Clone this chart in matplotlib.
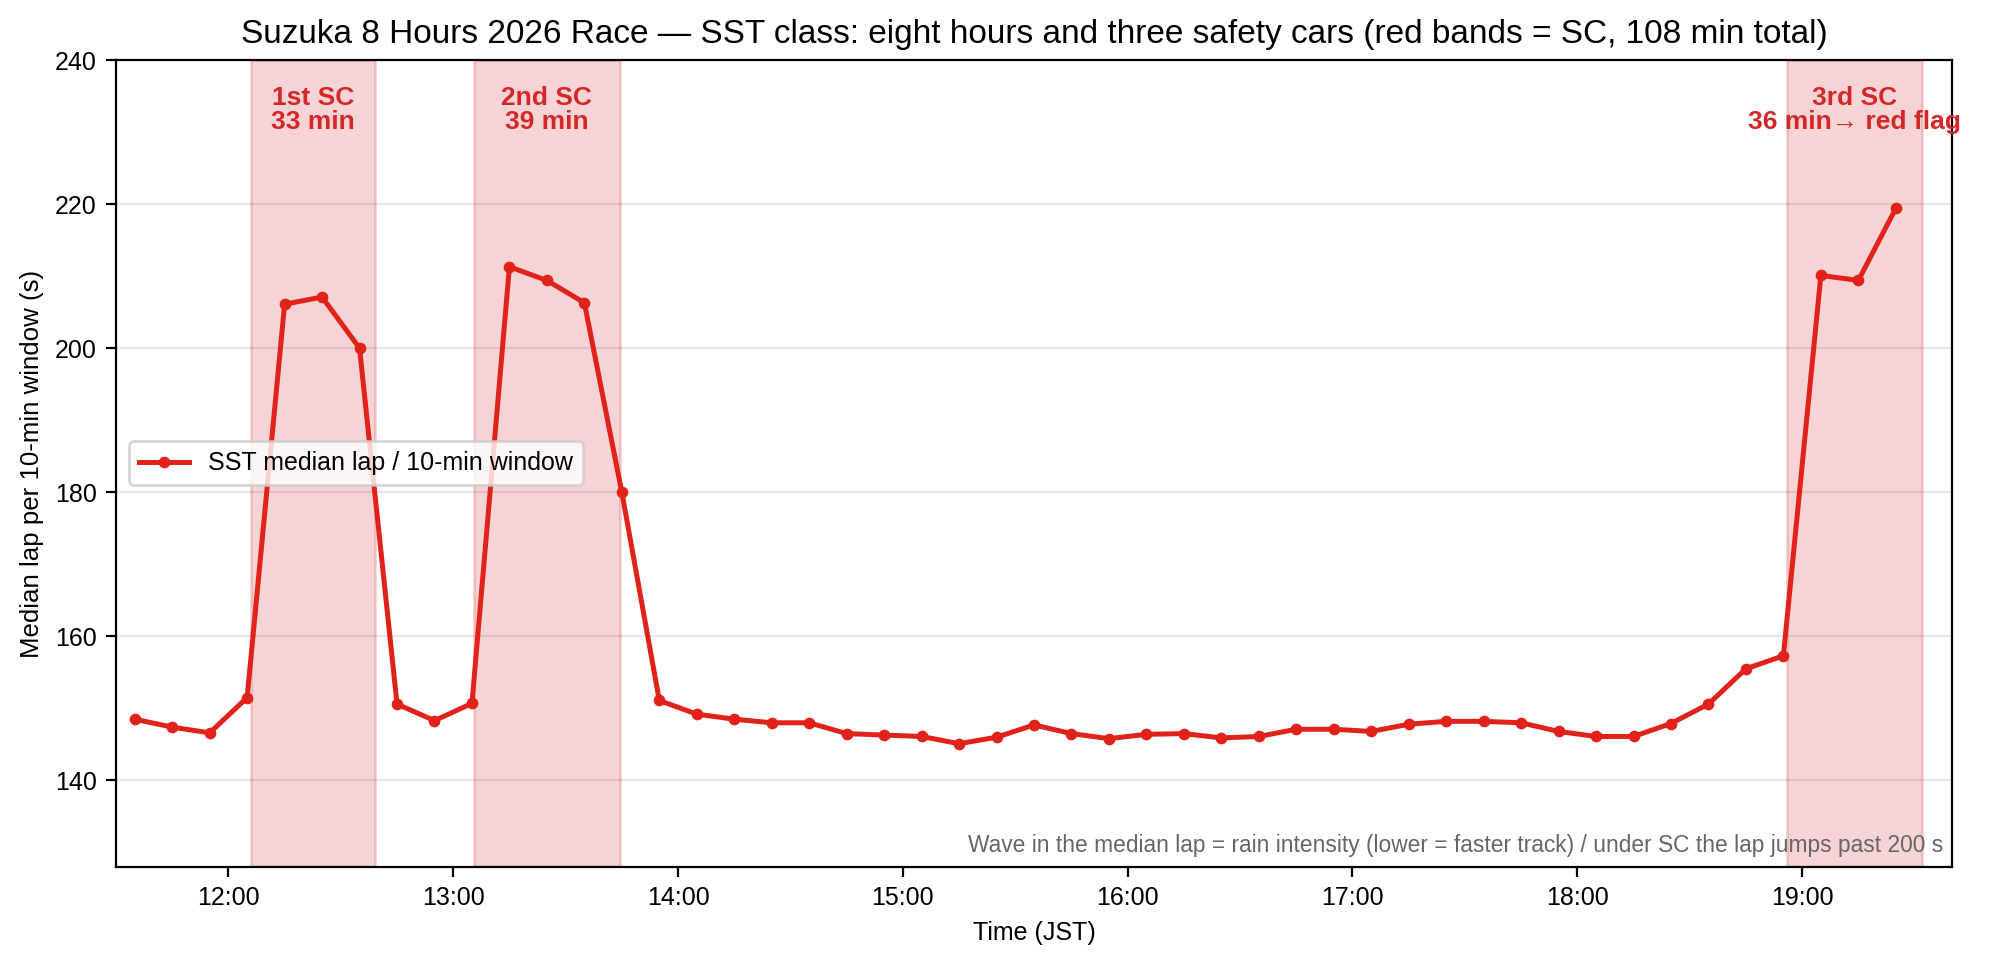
import matplotlib
matplotlib.use("Agg")
import matplotlib.pyplot as plt
import matplotlib.dates as mdates
import pandas as pd

plt.rcParams['font.family'] = ['Liberation Sans', 'DejaVu Sans']

# 10-min window centres (JST) and SST median lap per window (s)
times = ["11:35", "11:45", "11:55", "12:05", "12:15", "12:25", "12:35", "12:45",
         "12:55", "13:05", "13:15", "13:25", "13:35", "13:45", "13:55", "14:05",
         "14:15", "14:25", "14:35", "14:45", "14:55", "15:05", "15:15", "15:25",
         "15:35", "15:45", "15:55", "16:05", "16:15", "16:25", "16:35", "16:45",
         "16:55", "17:05", "17:15", "17:25", "17:35", "17:45", "17:55", "18:05",
         "18:15", "18:25", "18:35", "18:45", "18:55", "19:05", "19:15", "19:25"]
median_lap = [148.5, 147.4, 146.6, 151.5, 206.1, 207.1, 200.0, 150.6,
              148.3, 150.7, 211.3, 209.4, 206.3, 180.0, 151.1, 149.2,
              148.5, 148.0, 148.0, 146.5, 146.3, 146.1, 145.1, 146.0,
              147.7, 146.5, 145.8, 146.4, 146.5, 145.9, 146.1, 147.1,
              147.1, 146.8, 147.8, 148.2, 148.2, 148.0, 146.8, 146.1,
              146.1, 147.9, 150.6, 155.5, 157.3, 210.1, 209.4, 219.4]

# safety car periods
sc_start = ["12:06", "13:05:30", "18:56"]
sc_end = ["12:39", "13:44:30", "19:32"]
sc_labels = ["1st SC\n33 min", "2nd SC\n39 min", "3rd SC\n36 min→ red flag"]

day = "2026-07-05 "
x = pd.to_datetime([day + t for t in times])
red = "#e0221b"

fig, ax = plt.subplots(figsize=(10, 4.8), dpi=200)
fig.subplots_adjust(left=0.058, right=0.976, top=0.9375, bottom=0.097)

for s, e, lab in zip(sc_start, sc_end, sc_labels):
    t0 = pd.Timestamp(day + s)
    t1 = pd.Timestamp(day + e)
    ax.axvspan(t0, t1, color="#d62728", alpha=0.2, lw=1)
    ax.text(t0 + (t1 - t0) / 2, 236.4, lab, ha="center", va="top",
            color="#d62728", fontsize=9.5, fontweight="bold", linespacing=1.0)

ax.plot(x, median_lap, color=red, lw=1.8, marker="o", markersize=3.2,
        label="SST median lap / 10-min window")

ax.set_xlim(pd.Timestamp(day + "11:30"), pd.Timestamp(day + "19:40"))
ax.set_ylim(128, 240)
ax.set_yticks([140, 160, 180, 200, 220, 240])
ax.xaxis.set_major_locator(mdates.HourLocator())
ax.xaxis.set_major_formatter(mdates.DateFormatter("%H:%M"))
ax.tick_params(labelsize=9)
ax.grid(axis="y", color="#e6e6e6", lw=0.8)
ax.set_axisbelow(True)

ax.set_xlabel("Time (JST)", fontsize=9)
ax.set_ylabel("Median lap per 10-min window (s)", fontsize=9.3)
ax.set_title("Suzuka 8 Hours 2026 Race — SST class: eight hours and three safety cars "
             "(red bands = SC, 108 min total)", fontsize=12)
ax.legend(loc="center left", fontsize=9)
ax.text(0.995, 0.012, "Wave in the median lap = rain intensity (lower = faster track) / "
        "under SC the lap jumps past 200 s", transform=ax.transAxes,
        ha="right", va="bottom", fontsize=8.2, color="#666666")

fig.savefig("out.png")
